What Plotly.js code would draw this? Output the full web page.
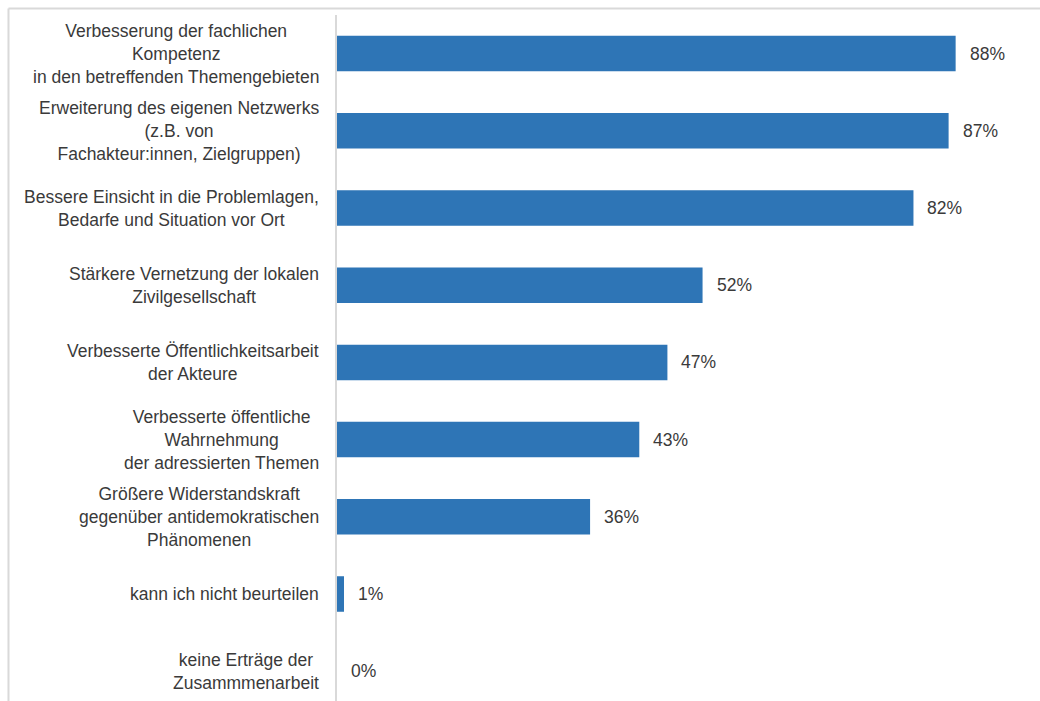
<!DOCTYPE html>
<html>
<head>
<meta charset="utf-8">
<script src="https://cdn.plot.ly/plotly-3.0.1.min.js"></script>
<style>
  html, body { margin: 0; padding: 0; background: #fff; }
  #chart { width: 1040px; height: 701px; }
</style>
</head>
<body>
<div id="chart"></div>
<script>
const categories = [
  "Verbesserung der fachlichen<br>Kompetenz<br>in den betreffenden Themengebieten",
  "Erweiterung des eigenen Netzwerks<br>(z.B. von<br>Fachakteur:innen, Zielgruppen)",
  "Bessere Einsicht in die Problemlagen,<br>Bedarfe und Situation vor Ort",
  "Stärkere Vernetzung der lokalen<br>Zivilgesellschaft",
  "Verbesserte Öffentlichkeitsarbeit<br>der Akteure",
  "Verbesserte öffentliche<br>Wahrnehmung<br>der adressierten Themen",
  "Größere Widerstandskraft<br>gegenüber antidemokratischen<br>Phänomenen",
  "kann ich nicht beurteilen",
  "keine Erträge der<br>Zusammmenarbeit"
];
const values = [88, 87, 82, 52, 47, 43, 36, 1, 0];
const valueLabels = ["88%", "87%", "82%", "52%", "47%", "43%", "36%", "1%", "0%"];

const textColor = "#3a3a3a";
const fontFamily = "Liberation Sans, Arial, sans-serif";
const fontSize = 17.5;

const trace = {
  type: "bar",
  orientation: "h",
  x: values,
  y: categories,
  marker: { color: "#2E75B6", line: { width: 0 } },
  hoverinfo: "none"
};

const annotations = [];
categories.forEach((c, i) => {
  annotations.push({
    xref: "paper", yref: "y", x: 0, y: c,
    xanchor: "right", yanchor: "middle", xshift: -16,
    align: "center", showarrow: false, text: c,
    font: { family: fontFamily, size: fontSize, color: textColor }
  });
  annotations.push({
    xref: "x", yref: "y", x: values[i], y: c,
    xanchor: "left", yanchor: "middle", xshift: 12,
    showarrow: false, text: valueLabels[i],
    font: { family: fontFamily, size: fontSize, color: textColor }
  });
});

const layout = {
  width: 1040, height: 701,
  margin: { l: 337, r: 0, t: 15, b: 0, pad: 0 },
  paper_bgcolor: "#ffffff", plot_bgcolor: "#ffffff",
  showlegend: false,
  bargap: 0.54,
  xaxis: { range: [0, 100], showgrid: false, zeroline: false, showticklabels: false, showline: false, fixedrange: true },
  yaxis: {
    type: "category", range: [8.386, -0.5],
    showgrid: false, zeroline: false, showticklabels: false, ticks: "",
    showline: true, linecolor: "#d9d9d9", linewidth: 2, fixedrange: true
  },
  annotations: annotations,
  shapes: [
    { type: "line", xref: "paper", yref: "paper", x0: -0.4673, x1: 1.02, y0: 1.0095, y1: 1.0095,
      line: { color: "#d9d9d9", width: 2 } },
    { type: "line", xref: "paper", yref: "paper", x0: -0.4673, x1: -0.4673, y0: -0.05, y1: 1.0095,
      line: { color: "#d9d9d9", width: 2 } }
  ]
};

Plotly.newPlot("chart", [trace], layout, { staticPlot: true, displayModeBar: false });
</script>
</body>
</html>
